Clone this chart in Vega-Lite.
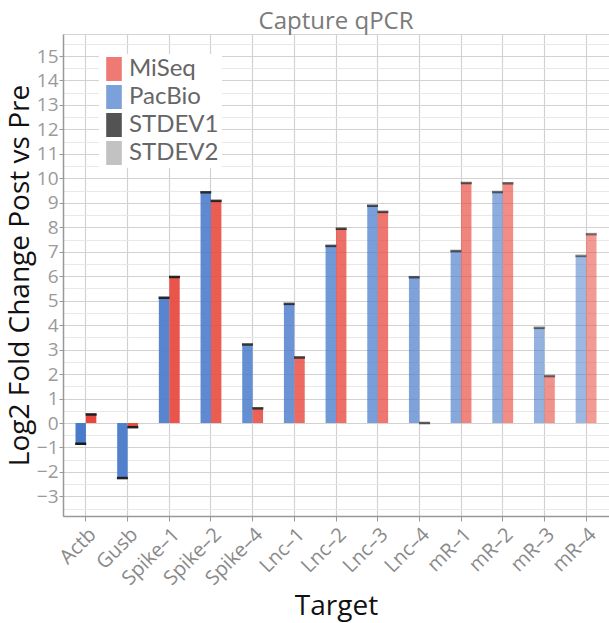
{
  "$schema": "https://vega.github.io/schema/vega-lite/v6.json",
  "width": 609,
  "height": 623,
  "autosize": {"type": "fit", "contains": "padding"},
  "padding": {"left": 6, "top": 10, "right": 0, "bottom": 2},
  "background": "white",
  "title": {"text": "Capture qPCR", "fontSize": 24, "font": "Open Sans", "fontWeight": "normal", "color": "#7a7a7a", "offset": 0},
  "config": {"font": "Open Sans", "view": {"stroke": "#d5d5d5"}},
  "data": {
    "values": [
      {"target": "Actb", "series": "PacBio", "value": -0.85},
      {"target": "Actb", "series": "MiSeq", "value": 0.35},
      {"target": "Gusb", "series": "PacBio", "value": -2.25},
      {"target": "Gusb", "series": "MiSeq", "value": -0.17},
      {"target": "Spike–1", "series": "PacBio", "value": 5.12},
      {"target": "Spike–1", "series": "MiSeq", "value": 5.97},
      {"target": "Spike–2", "series": "PacBio", "value": 9.43},
      {"target": "Spike–2", "series": "MiSeq", "value": 9.08},
      {"target": "Spike–4", "series": "PacBio", "value": 3.21},
      {"target": "Spike–4", "series": "MiSeq", "value": 0.6},
      {"target": "Lnc–1", "series": "PacBio", "value": 4.87},
      {"target": "Lnc–1", "series": "MiSeq", "value": 2.68},
      {"target": "Lnc–2", "series": "PacBio", "value": 7.24},
      {"target": "Lnc–2", "series": "MiSeq", "value": 7.94},
      {"target": "Lnc–3", "series": "PacBio", "value": 8.88},
      {"target": "Lnc–3", "series": "MiSeq", "value": 8.63},
      {"target": "Lnc–4", "series": "PacBio", "value": 5.96},
      {"target": "Lnc–4", "series": "MiSeq", "value": 0.0},
      {"target": "mR–1", "series": "PacBio", "value": 7.03},
      {"target": "mR–1", "series": "MiSeq", "value": 9.81},
      {"target": "mR–2", "series": "PacBio", "value": 9.44},
      {"target": "mR–2", "series": "MiSeq", "value": 9.8},
      {"target": "mR–3", "series": "PacBio", "value": 3.89},
      {"target": "mR–3", "series": "MiSeq", "value": 1.92},
      {"target": "mR–4", "series": "PacBio", "value": 6.83},
      {"target": "mR–4", "series": "MiSeq", "value": 7.72}
    ]
  },
  "layer": [
    {
      "mark": {"type": "bar"},
      "encoding": {
        "x": {
          "field": "target", "type": "nominal",
          "sort": ["Actb", "Gusb", "Spike–1", "Spike–2", "Spike–4", "Lnc–1", "Lnc–2", "Lnc–3", "Lnc–4", "mR–1", "mR–2", "mR–3", "mR–4"],
          "scale": {"paddingInner": 0, "paddingOuter": 0.05},
          "axis": {
            "title": "Target", "titleFontSize": 28, "titleColor": "#111", "titleFontWeight": "normal", "titlePadding": 4,
            "labelAngle": -45, "labelAlign": "right", "labelBaseline": "top", "labelFontSize": 20, "labelColor": "#8a8a8a", "labelPadding": 3,
            "grid": true, "gridColor": "#d2d2d2", "gridWidth": 1.2, "bandPosition": 0.5,
            "ticks": true, "tickColor": "#999", "tickSize": 5, "tickBand": "center",
            "domainColor": "#999", "domainWidth": 1.5
          }
        },
        "xOffset": {"field": "series", "type": "nominal", "sort": ["PacBio", "MiSeq"], "scale": {"paddingInner": 0, "paddingOuter": 1}},
        "y": {
          "field": "value", "type": "quantitative",
          "scale": {"domain": [-3.8, 15.9], "nice": false, "zero": false},
          "axis": {
            "title": "Log2 Fold Change Post vs Pre", "titleFontSize": 28, "titleColor": "#111", "titleFontWeight": "normal", "titlePadding": 2,
            "values": [-3, -2, -1, 0, 1, 2, 3, 4, 5, 6, 7, 8, 9, 10, 11, 12, 13, 14, 15],
            "labelFontSize": 19, "labelColor": "#9a9a9a", "labelPadding": 1,
            "grid": true, "gridColor": "#d2d2d2", "gridWidth": 1.2,
            "tickColor": "#999", "tickSize": 4, "domainColor": "#999", "domainWidth": 1.5
          }
        },
        "color": {
          "field": "series", "type": "nominal",
          "scale": {"domain": ["MiSeq", "PacBio", "STDEV1", "STDEV2"], "range": ["#e8473d", "#4a7bcb", "#111111", "#aaaaaa"]},
          "legend": {
            "title": null, "orient": "none", "legendX": 36, "legendY": 20,
            "fillColor": "white", "padding": 3,
            "labelFont": "Lato", "labelFontSize": 24, "labelColor": "#666", "labelOffset": 3, "labelLimit": 300,
            "symbolType": "M-0.65,-1H0.65V1H-0.65Z", "symbolSize": 576, "symbolStrokeWidth": 0, "symbolOpacity": 0.72,
            "rowPadding": 4
          }
        },
        "opacity": {
          "field": "target", "type": "ordinal",
          "sort": ["Actb", "Gusb", "Spike–1", "Spike–2", "Spike–4", "Lnc–1", "Lnc–2", "Lnc–3", "Lnc–4", "mR–1", "mR–2", "mR–3", "mR–4"],
          "scale": {"range": [1, 0.55]},
          "legend": null
        }
      }
    },
    {
      "mark": {"type": "tick", "thickness": 2.5, "size": 11, "color": "#1a1a1a"},
      "encoding": {
        "x": {"field": "target", "type": "nominal", "sort": ["Actb", "Gusb", "Spike–1", "Spike–2", "Spike–4", "Lnc–1", "Lnc–2", "Lnc–3", "Lnc–4", "mR–1", "mR–2", "mR–3", "mR–4"]},
        "xOffset": {"field": "series", "type": "nominal", "sort": ["PacBio", "MiSeq"]},
        "y": {
          "field": "value", "type": "quantitative",
          "axis": {
            "title": null, "orient": "right",
            "values": [-3.5, -2.5, -1.5, -0.5, 0.5, 1.5, 2.5, 3.5, 4.5, 5.5, 6.5, 7.5, 8.5, 9.5, 10.5, 11.5, 12.5, 13.5, 14.5, 15.5],
            "labels": false, "ticks": false, "domain": false,
            "grid": true, "gridColor": "#e8e8e8", "gridWidth": 1
          }
        },
        "opacity": {
          "field": "target", "type": "ordinal",
          "sort": ["Actb", "Gusb", "Spike–1", "Spike–2", "Spike–4", "Lnc–1", "Lnc–2", "Lnc–3", "Lnc–4", "mR–1", "mR–2", "mR–3", "mR–4"],
          "legend": null
        }
      }
    }
  ],
  "resolve": {"axis": {"y": "independent"}}
}
